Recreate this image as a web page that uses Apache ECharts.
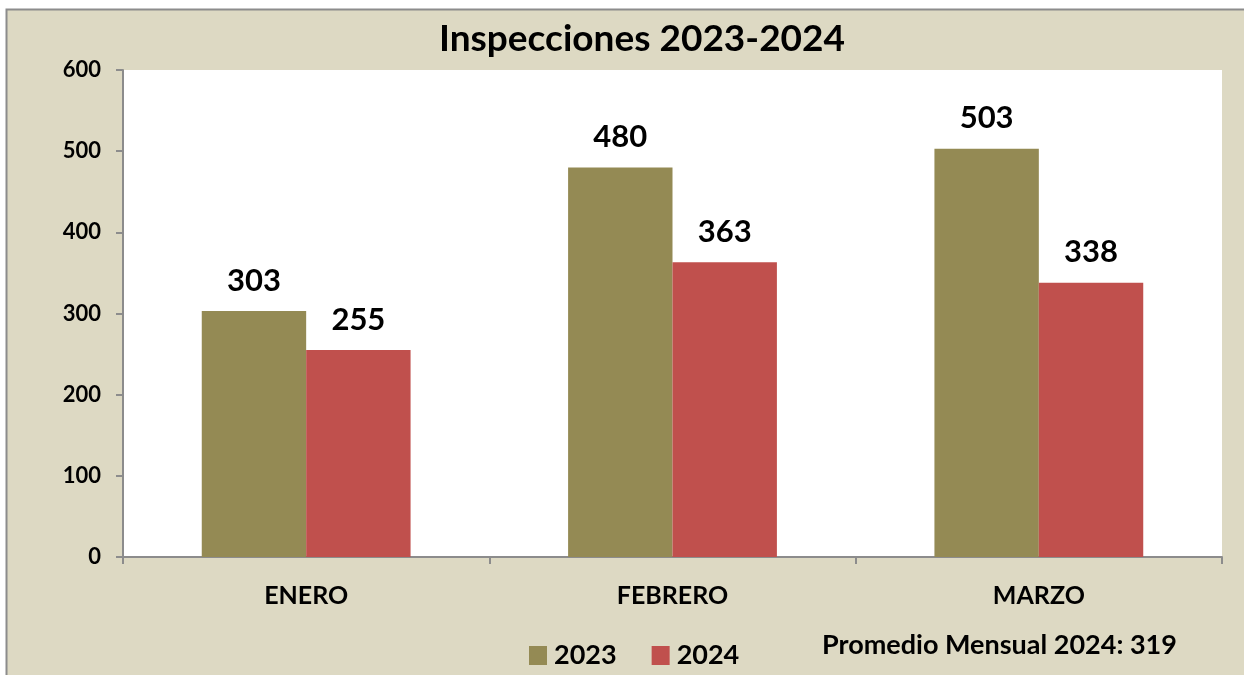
<!DOCTYPE html>
<html>
<head>
<meta charset="utf-8">
<script src="https://cdn.jsdelivr.net/npm/echarts@6/dist/echarts.min.js"></script>
<style>
  html, body { margin: 0; padding: 0; background: #ffffff; }
  #chart { width: 1244px; height: 675px; }
</style>
</head>
<body>
<div id="chart"></div>
<script>
// Monthly inspections, first quarter
const months = ['ENERO', 'FEBRERO', 'MARZO'];
const values2023 = [303, 480, 503];
const values2024 = [255, 363, 338];
const yTicks = [0, 100, 200, 300, 400, 500, 600];

const avg2024 = Math.round(values2024.reduce((a, b) => a + b, 0) / values2024.length);

const FONT = 'Lato, "Open Sans", sans-serif';
const BG = '#DDD9C3';
const AXIS = '#8C8C8C';

const chart = echarts.init(document.getElementById('chart'), null, { renderer: 'canvas' });

const barLabel = {
  show: true,
  position: 'top',
  distance: 15,
  fontFamily: FONT,
  fontWeight: 'bold',
  fontSize: 31,
  color: '#000000'
};

chart.setOption({
  backgroundColor: '#ffffff',
  animation: false,
  textStyle: { fontFamily: FONT },
  graphic: [
    {
      type: 'rect',
      z: -10,
      silent: true,
      shape: { x: 6.5, y: 9.5, width: 1250, height: 680 },
      style: { fill: BG, stroke: AXIS, lineWidth: 2 }
    },
    {
      type: 'text',
      left: 822,
      top: 632,
      style: {
        text: 'Promedio Mensual 2024: ' + avg2024,
        font: 'bold 27px ' + FONT,
        fill: '#000000'
      }
    }
  ],
  title: {
    text: 'Inspecciones 2023-2024',
    left: 637,
    textAlign: 'center',
    top: 16,
    textStyle: { fontFamily: FONT, fontWeight: 'bold', fontSize: 37, color: '#000000' }
  },
  legend: {
    left: 524,
    top: 637,
    icon: 'rect',
    itemWidth: 18,
    itemHeight: 19,
    itemGap: 35,
    textStyle: { fontFamily: FONT, fontWeight: 'bold', fontSize: 27, color: '#000000', padding: [0, 0, 0, 2] },
    data: ['2023', '2024']
  },
  grid: {
    left: 123,
    right: 22,
    top: 70,
    bottom: 118,
    show: true,
    backgroundColor: '#ffffff',
    borderWidth: 0,
    containLabel: false
  },
  xAxis: {
    type: 'category',
    data: months,
    axisLine: { show: true, lineStyle: { color: AXIS, width: 2 } },
    axisTick: { show: true, length: 7, lineStyle: { color: AXIS, width: 2 } },
    axisLabel: { margin: 26, fontFamily: FONT, fontWeight: 'bold', fontSize: 25, color: '#000000' },
    splitLine: { show: false }
  },
  yAxis: {
    type: 'value',
    min: yTicks[0],
    max: yTicks[yTicks.length - 1],
    interval: 100,
    axisLine: { show: true, lineStyle: { color: AXIS, width: 2 } },
    axisTick: { show: true, length: 7, lineStyle: { color: AXIS, width: 2 } },
    axisLabel: { margin: 22, fontFamily: FONT, fontWeight: 'bold', fontSize: 22, color: '#000000' },
    splitLine: { show: false }
  },
  series: [
    {
      name: '2023',
      type: 'bar',
      data: values2023,
      barGap: '0%',
      barCategoryGap: '43%',
      itemStyle: { color: '#948A54' },
      label: barLabel
    },
    {
      name: '2024',
      type: 'bar',
      data: values2024,
      itemStyle: { color: '#C0504D' },
      label: barLabel
    }
  ]
});
</script>
</body>
</html>
